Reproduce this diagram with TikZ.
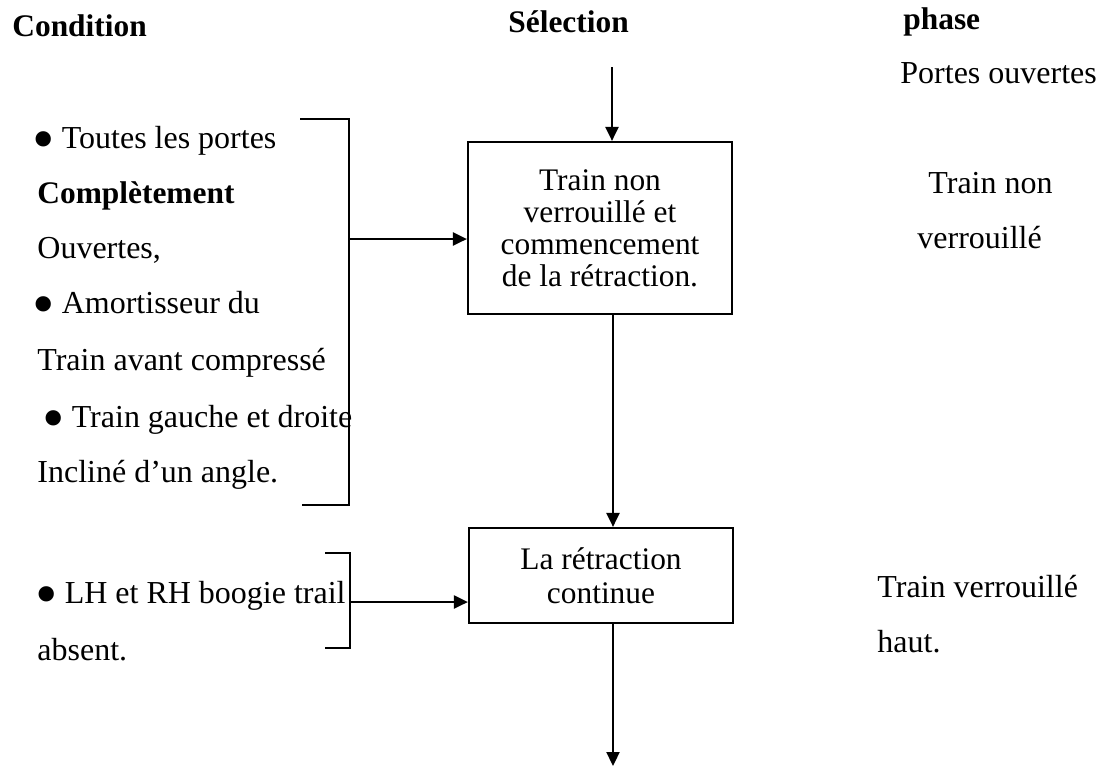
\documentclass[tikz,border=0pt]{standalone}
\usepackage{fontspec}
\setmainfont{Liberation Serif}
\usetikzlibrary{arrows.meta,calc}
\newcommand{\bigbul}{\hspace{-2.5pt}\raisebox{-6.1pt}{\scalebox{2.0}{•}}\hspace{3.5pt}}
\tikzset{
  txt/.style={anchor=base west,inner sep=0pt,font=\fontsize{16}{19}\selectfont},
  hdr/.style={anchor=base west,inner sep=0pt,font=\fontsize{15.7}{19}\selectfont\bfseries},
  stepbox/.style={draw,line width=1.1pt,inner sep=0pt,align=center,minimum width=132pt,font=\fontsize{15.7}{16}\selectfont},
  conn/.style={line width=1.1pt,-{Triangle[length=7pt,width=6.5pt]}},
  brk/.style={line width=1.1pt}
}
\begin{document}
\begin{tikzpicture}[x=0.5pt,y=-0.5pt]
\useasboundingbox (0,0) rectangle (1108,768);
% headers
\node[hdr] (hcond) at (12,36) {Condition};
\node[hdr] (hsel) at (508,32) {Sélection};
\node[hdr] (hphase) at (903,29) {phase};
% boxes
\node[stepbox,minimum height=86pt] (b1) at (600,228) {Train non\\verrouillé et\\commencement\\de la rétraction.};
\node[stepbox,minimum height=47.5pt] (b2) at (601,575.5) {La rétraction\\[1pt]continue};
% left conditions
\node[txt] (c1) at (37,148) {\bigbul Toutes les portes};
\node[hdr] (c2) at (37,203) {Complètement};
\node[txt] (c3) at (37,258) {Ouvertes,};
\node[txt] (c4) at (37,313) {\bigbul Amortisseur du};
\node[txt] (c5) at (37,370) {Train avant compressé};
\node[txt] (c6) at (47,427) {\bigbul Train gauche et droite};
\node[txt] (c7) at (37,482) {Incliné d’un angle.};
\node[txt] (c8) at (40,603) {\bigbul LH et RH boogie trail};
\node[txt] (c9) at (37,660) {absent.};
% right phases
\node[txt] (p1) at (900,83) {Portes ouvertes};
\node[txt] (p2) at (928,193) {Train non};
\node[txt] (p3) at (917,248) {verrouillé};
\node[txt] (p4) at (877,597) {Train verrouillé};
\node[txt] (p5) at (877,652) {haut.};
% brackets
\coordinate (k1a) at (300,119);
\coordinate (k1b) at (349,119);
\coordinate (k1c) at (349,505);
\coordinate (k1d) at (302,505);
\coordinate (k1m) at (349,239);
\draw[brk] (k1a) -- (k1b) -- (k1c) -- (k1d);
\coordinate (k2a) at (325,553);
\coordinate (k2b) at (350,553);
\coordinate (k2c) at (350,648);
\coordinate (k2d) at (325,648);
\coordinate (k2m) at (350,602);
\draw[brk] (k2a) -- (k2b) -- (k2c) -- (k2d);
% connectors
\coordinate (t0) at (612,67);
\coordinate (ax) at (613,0);
\coordinate (tend) at (613,766);
\draw[conn] (t0) -- (t0 |- b1.north);
\draw[conn] (b1.south -| ax) -- (b2.north -| ax);
\draw[conn] (b2.south -| ax) -- (tend);
\draw[conn] (k1m) -- (k1m -| b1.west);
\draw[conn] (k2m) -- (k2m -| b2.west);
\end{tikzpicture}
\end{document}
